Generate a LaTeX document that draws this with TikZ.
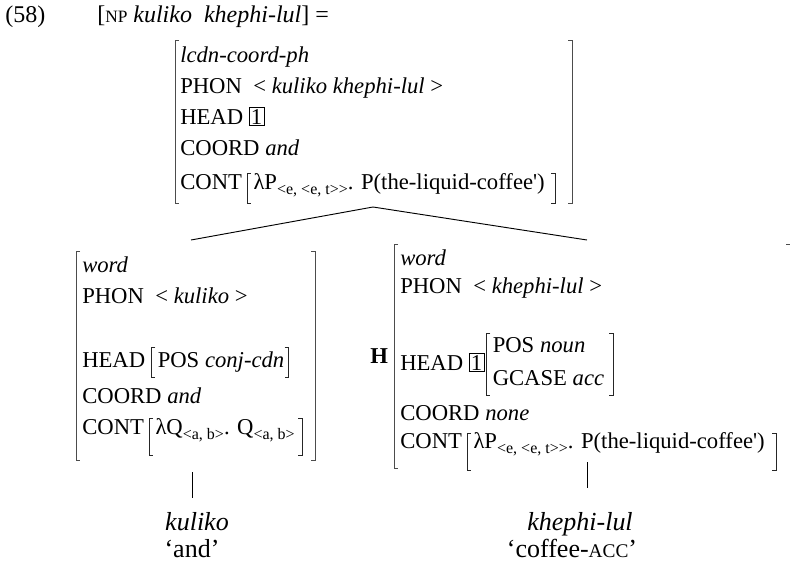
\documentclass[tikz,border=0pt]{standalone}
\usepackage{fontspec}
\setmainfont{Liberation Serif}
\usetikzlibrary{calc}
% small lowered index, e.g. type subscripts
\newcommand\sbs[1]{\raisebox{-0.5ex}{\fontsize{12}{13}\selectfont #1}}
% boxed structure-sharing tag
\newcommand\boxnum[1]{{\setlength\fboxsep{1pt}\setlength\fboxrule{0.5pt}\fbox{#1}}}
% small capitals imitation
\newcommand\smc[1]{{\fontsize{13}{13}\selectfont #1}}
% straight prime
\newcommand\prm{\textquotesingle}
\begin{document}
\begin{tikzpicture}[x=0.75pt,y=-0.75pt,
  txt/.style={anchor=base west, inner sep=0pt, font=\fontsize{17}{19}\selectfont},
  ctr/.style={anchor=base, inner sep=0pt, font=\fontsize{19.5}{21}\selectfont},
  hdr/.style={anchor=base west, inner sep=0pt, font=\fontsize{18}{20}\selectfont},
  brk/.style={line width=0.6pt, black!70},
  ibrk/.style={line width=0.7pt, black!85},
  edge/.style={line width=0.7pt}]
\useasboundingbox (0,0) rectangle (790,564);

% outer brackets of a feature structure: x, top y, bottom y
\newcommand\lbr[3]{\draw[brk] (#1+4,#2) -- (#1,#2) -- (#1,#3) -- (#1+4,#3);}
\newcommand\rbr[3]{\draw[brk] (#1-4,#2) -- (#1,#2) -- (#1,#3) -- (#1-4,#3);}
% inner brackets around a value node: node, reach above and below its baseline,
% gap on the left, gap on the right
\newcommand\brpair[5]{%
  \draw[ibrk] ($(#1.base west)+(-#4+4,-#2)$) -- ++(-4,0) -- ++(0,#2+#3) -- ++(4,0);
  \draw[ibrk] ($(#1.base east)+(#5-4,-#2)$) -- ++(4,0) -- ++(0,#2+#3) -- ++(-4,0);}

% example heading
\node[hdr] (num) at (5,22) {(58)};
\node[hdr] (np) at (97,22) {[\smc{NP} \textit{kuliko}\enspace\textit{khephi-lul}] =};

% mother: coordinated phrase
\lbr{175}{40}{203}
\rbr{572}{40}{203}
\node[txt] (m1) at (180,62) {\textit{lcdn-coord-ph}};
\node[txt] (m2) at (180,93) {PHON\enspace< \textit{kuliko khephi-lul} >};
\node[txt] (m3) at (180,124) {HEAD \boxnum{1}};
\node[txt] (m4) at (180,155) {COORD \textit{and}};
\node[txt] (m5) at (180,189) {CONT};
\node[txt] (m5c) at ($(m5.base east)+(11,0)$) {λP\sbs{<e, <e, t>{}>}. P(the-liquid-coffee\prm)};
\brpair{m5c}{16}{14}{6}{10}

% left daughter: the conjunction
\lbr{76}{251}{460}
\rbr{315}{251}{460}
\node[txt] (l1) at (82,272) {\textit{word}};
\node[txt] (l2) at (82,303) {PHON\enspace< \textit{kuliko} >};
\node[txt] (l3) at (82,367) {HEAD};
\node[txt] (l3c) at ($(l3.base east)+(12,0)$) {POS \textit{conj-cdn}};
\brpair{l3c}{20}{10}{6}{4}
\node[txt] (l4) at (82,403) {COORD \textit{and}};
\node[txt] (l5) at (82,434) {CONT};
\node[txt] (l5c) at ($(l5.base east)+(11,0)$) {λQ\sbs{<a, b>}. Q\sbs{<a, b>}};
\brpair{l5c}{16}{21}{6}{7}

% right daughter: the head noun
\node[txt, font=\fontsize{17}{19}\selectfont\bfseries] (hd) at (370,363) {H};
\lbr{394}{244}{468}
\draw[brk] (786,244) -- (790,244);
\node[txt] (r1) at (400,265) {\textit{word}};
\node[txt] (r2) at (400,293) {PHON\enspace< \textit{khephi-lul} >};
\node[txt] (r3) at (400,370) {HEAD \boxnum{1}};
\node[txt] (r3a) at ($(r3.base east)+(8,-18)$) {POS \textit{noun}};
\node[txt] (r3b) at ($(r3.base east)+(8,15)$) {GCASE \textit{acc}};
\draw[ibrk] ($(r3a.base west)+(-2,-19)$) -- ++(-4,0) -- ++(0,62) -- ++(4,0);
\draw[ibrk] ($(r3b.base east)+(5,-52)$) -- ++(4,0) -- ++(0,62) -- ++(-4,0);
\node[txt] (r4) at (400,420) {COORD \textit{none}};
\node[txt] (r5) at (400,448) {CONT};
\node[txt] (r5c) at ($(r5.base east)+(11,0)$) {λP\sbs{<e, <e, t>{}>}. P(the-liquid-coffee\prm)};
\brpair{r5c}{15}{22}{6}{11}

% tree branches
\coordinate (apex) at (373,207);
\coordinate (ltop) at (191,240);
\coordinate (rtop) at (587,240);
\draw[edge] (ltop) -- (apex) -- (rtop);

% words and glosses
\coordinate (lbot) at (192,472);
\coordinate (rbot) at (587,462);
\node[ctr] (w1) at (197,530) {\textit{kuliko}};
\node[ctr] (g1) at (192,557) {‘and’};
\node[ctr] (w2) at (580,530) {\textit{khephi-lul}};
\node[ctr] (g2) at (572,557) {‘coffee-\smc{\fontsize{14.5}{14.5}\selectfont ACC}’};
\draw[edge] (lbot) -- ++(0,26);
\draw[edge] (rbot) -- ++(0,26);
\end{tikzpicture}
\end{document}
